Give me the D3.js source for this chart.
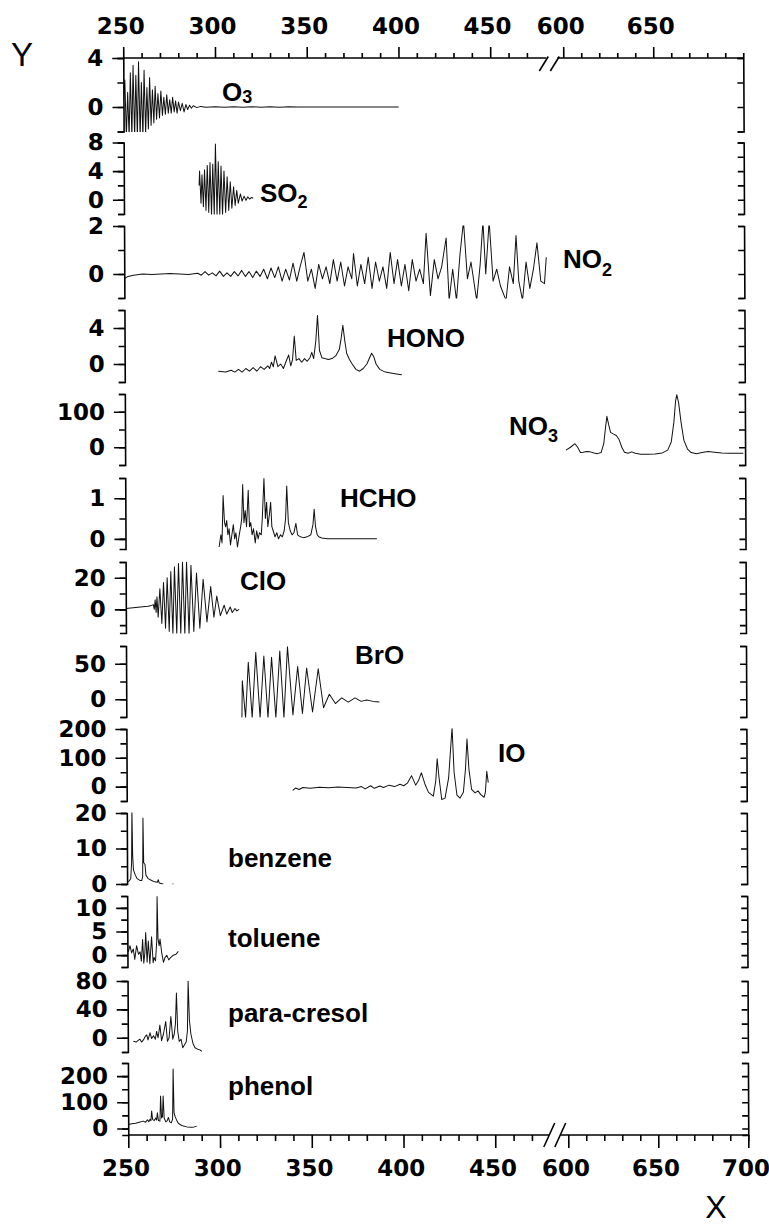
<!DOCTYPE html>
<html><head><meta charset="utf-8">
<script src="https://cdn.jsdelivr.net/npm/d3@7"></script>
<style>body{margin:0;background:#fff}svg{display:block}</style>
</head><body><svg id="c" width="769" height="1225"></svg>
<script>
// ---------------- DATA (wavelength nm, value) ----------------
const o3 = [[250,0.5],[250.8,2.2],[251.5,-2.5],[252.3,1.2],[253,-2.5],[253.8,2.8],[254.5,-2.5],[255.3,3.4],[256,-2.5],[256.8,2.6],[257.5,-2.5],[258.3,3.7],[259,-2.5],[259.8,2.0],[260.5,-2.5],[261.3,3.0],[262,-2.2],[262.8,1.6],[263.5,-1.8],[264.3,2.4],[265,-1.5],[265.8,1.4],[266.5,-1.3],[267.3,1.7],[268,-1.0],[268.8,1.1],[269.6,-0.9],[270.4,1.3],[271.2,-0.7],[272,0.8],[272.8,-0.6],[273.6,1.0],[274.4,-0.5],[275.2,0.6],[276,-0.5],[276.8,0.8],[277.6,-0.4],[278.4,0.5],[279.2,-0.5],[280,0.4],[281,-0.3],[282,0.3],[283,-0.4],[284,0.2],[285,-0.2],[286,0.15],[287,-0.1],[288,0.1],[290,-0.05],[292,0.05],[295,-0.03],[300,0.02],[305,-0.02],[310,0.03],[315,-0.02],[320,0.03],[325,-0.02],[330,0.02],[335,-0.02],[340,0.02],[345,0],[360,0],[380,0],[400,0]];
const so2 = [[291,2.0],[291.3,4.0],[292,-0.5],[292.6,3.5],[293.3,-1.0],[294,4.2],[294.7,-1.5],[295.5,4.8],[296.2,-1.8],[297,5.2],[297.7,-2.2],[298.5,5.0],[299.2,-2.2],[300,7.8],[300.7,-2.2],[301.5,5.3],[302.2,-2.2],[303,4.7],[303.7,-2.2],[304.6,4.0],[305.4,-1.8],[306.3,3.2],[307.1,-1.5],[308,2.5],[308.8,-1.2],[309.8,1.8],[310.6,-0.8],[311.5,1.3],[312.3,-0.5],[313.5,0.8],[314.4,-0.2],[315.5,0.5],[316.5,-0.1],[317.5,0.4],[318.5,0.1],[319.5,0.3],[320.5,0.2]];
const no2 = [[250,-0.2],[252,-0.1],[255,-0.05],[260,0],[265,-0.02],[270,0],[275,0.02],[280,0],[285,-0.02],[290,0.03],[292,-0.05],[294,0.1],[296,-0.05],[298,0.05],[300,-0.08],[302,0.12],[304,-0.1],[306,0.05],[308,-0.1],[310,0.1],[312,-0.08],[314,0.15],[316,-0.1],[318,0.1],[320,-0.15],[322,0.12],[324,-0.1],[326,0.2],[328,-0.2],[330,0.25],[332,-0.15],[334,0.3],[336,-0.3],[338,0.2],[340,-0.25],[342,0.45],[344,-0.3],[346,0.35],[348,0.9],[350,-0.3],[352,0.2],[354,-0.6],[356,0.4],[358,-0.2],[360,0.3],[362,-0.4],[364,0.6],[366,-0.3],[368,0.5],[370,-0.5],[372,0.3],[374,-0.2],[375,0.85],[377,-0.5],[379,0.4],[381,-0.4],[383,0.7],[385,-0.6],[387,0.5],[389,-0.3],[391,0.3],[393,-0.6],[395,0.9],[397,-0.4],[399,0.6],[401,-0.5],[403,0.4],[405,-0.7],[407,0.6],[409,-0.3],[411,0.2],[413,-0.4],[414.6,1.7],[416.8,-0.9],[419,0.6],[421,-0.2],[423,0.3],[425.5,1.5],[427,-1.1],[429,0.2],[431,-1.1],[433,0.8],[435,2.2],[437,-0.2],[439,0.5],[442,-1.1],[444,0.4],[445.6,2.2],[447,0],[449,2.2],[451,-0.3],[453,0.2],[455,-0.5],[458,-1.1],[460,0.3],[462,-0.4],[463.6,1.6],[465,-0.3],[467,-1.1],[469,0.5],[471,-0.6],[473,0.2],[475,1.3],[477,-0.3],[479,-0.4],[480.5,0.7]];
const hono = [[301,-0.8],[305,-0.9],[308,-0.7],[310,-0.9],[312,-0.6],[314,-0.9],[316,-0.5],[318,-0.8],[320,-0.4],[322,-0.8],[324,-0.3],[326,-0.6],[328,-0.2],[329,-0.5],[330,0.2],[331,-0.3],[332,0.9],[333.5,-0.3],[335,0],[336.5,-0.5],[338,0.3],[339.4,1.0],[340.5,-0.2],[341.5,0.5],[342.5,3.1],[343.5,0.4],[345,0.6],[346.5,0.2],[348,0.6],[349.5,0.3],[351,0.7],[352,1.3],[353,0.6],[354.2,2.5],[355.2,5.4],[356.2,1.5],[357.5,0.7],[359,0.6],[361,0.5],[363,0.6],[365,0.9],[367,1.6],[368,2.8],[369,4.3],[370,2.6],[371,1.2],[372.5,0.5],[374,0],[376,-0.6],[378,-0.8],[380,-0.5],[382,0],[383.5,0.7],[384.6,1.2],[385.8,0.8],[387,0],[389,-0.6],[392,-0.9],[395,-1.0],[398,-1.1],[401,-1.2]];
const no3 = [[600.5,-8],[603,0],[605.5,10],[607,0],[608.5,-15],[610,-14],[612,-12],[614,-13],[616,-16],[618,-18],[620,-15],[621.5,10],[622.5,55],[623.3,87],[624.2,65],[625.3,42],[627,37],[628.5,33],[630,22],[631.5,0],[633,-14],[635,-17],[637,-13],[639,-17],[642,-20],[646,-20],[650,-19],[654,-16],[657,-8],[659,15],[660.5,70],[661.5,130],[662.2,148],[663.2,125],[664.5,70],[666,20],[668,-5],[670,-15],[673,-18],[676,-15],[679.5,-12],[683,-14],[687,-16],[691,-17],[695,-17],[699,-17]];
const hcho = [[301,-0.2],[302,0.1],[302.6,-0.1],[303.3,1.07],[304,0.4],[304.6,0.3],[305.2,0.45],[305.8,0.1],[306.5,0.25],[307.2,-0.15],[308,0.1],[308.8,0.35],[309.5,0.0],[310.2,0.15],[311,-0.2],[312,0.1],[312.8,0.3],[313.4,0.5],[314,1.34],[314.6,0.4],[315.3,0.7],[316,0.3],[317,1.2],[317.6,0.3],[318.3,0.4],[319,0.1],[319.8,0.25],[320.7,-0.1],[321.5,0.2],[322.3,0.0],[323,0.15],[324,0.1],[324.6,0.5],[325.6,1.49],[326.3,0.5],[327,0.9],[327.6,0.3],[328.5,0.6],[329.2,0.9],[329.8,0.3],[330.5,0.2],[331.5,0.05],[332.5,0.15],[333.4,0.0],[334.5,0.1],[335.5,0.05],[336.5,0.2],[337.3,0.5],[338,1.3],[338.8,0.4],[339.8,0.2],[340.8,0.1],[341.8,0.15],[342.9,0.38],[343.8,0.1],[345.3,0.05],[347,0.03],[349,0.05],[351,0.1],[352.2,0.35],[352.9,0.73],[353.6,0.3],[354.5,0.1],[355.3,0.05],[357,0.02],[360,0],[365,0],[370,0],[375,0],[380,0],[387,0]];
const clo = [[250,0.5],[254,1],[258,1.5],[262,2],[264,2.5],[265,3],[265.5,0],[266,6],[266.5,-2],[267,8],[267.6,-5],[268.6,13],[269.6,-9],[270.6,17],[271.6,-12],[272.6,20],[273.6,-14],[274.6,24],[275.6,-16],[276.6,27],[277.7,-16],[278.8,29],[279.9,-16],[281,30],[282.1,-16],[283.2,30],[284.4,-16],[285.6,28],[287,-14],[288.6,23],[290.3,-12],[292.2,19],[294.2,-8],[296.3,14.4],[298,-5],[299.6,8.4],[301.5,-4],[303.6,2.6],[305,-3],[306.9,1.5],[308,-2],[309.5,0.5],[310.5,-1],[311.7,0]];
const bro = [[313,-26],[313.3,26],[315,-26],[316.6,52],[318.6,-26],[320.7,66],[322.9,-26],[325.1,61],[327.2,-26],[329.3,59],[331.5,-26],[333.8,68],[335.9,-26],[338,74],[340.8,-22],[343.5,46],[346,-20],[348.4,44],[351.5,-18],[354.7,43],[357.5,-12],[360.7,7],[364,-6],[367.4,2],[371,-4],[374.7,2],[378,-3],[381,-1],[384.5,-3],[388,-4]];
const io = [[340.5,-13],[342,-5],[344,-10],[346,-3],[350,-6],[355,-2],[360,-4],[365,-1],[370,-3],[375,-5],[378,0],[380,-8],[383,3],[385,-6],[388,2],[390,-3],[393,5],[396,0],[399,8],[401,3],[403,12],[405.3,38],[407.5,5],[409,20],[410.7,48],[412.5,10],[414.5,-20],[417.1,-33],[418.5,20],[419.3,97],[420.3,30],[421.7,-45],[423.5,-40],[425.5,30],[427.5,205],[428.5,50],[430,-30],[431.7,-40],[433.5,-20],[434.7,60],[435.6,165],[436.6,60],[438,-10],[439.9,-22],[441.5,-15],[443,-28],[444.8,-37],[445.5,-20],[446.3,53],[447.1,14]];
const benzene = [[250,0.5],[251,0.8],[252,1.5],[252.5,6],[252.8,21],[253.1,8],[253.5,4],[254.5,2.5],[255.5,1.5],[257,1],[258,1],[258.5,2],[258.8,18.6],[259.1,6],[259.8,5.5],[260.3,2.5],[261.5,1.5],[263.4,1],[265,0.6],[266.5,0.5],[267,1.2],[267.5,0.3],[269,0.1],[269.7,0],[272,null],[274.7,0],[275.3,0]];
const toluene = [[250.5,0.7],[251.4,2],[252.3,0.5],[253.2,1.3],[254,-0.9],[255,2],[256,0.2],[256.9,0.7],[257.6,-1.3],[258.3,3.3],[258.9,-1.7],[259.5,0.5],[260,4.8],[260.7,-1.5],[261.4,3],[262.2,-1.8],[263.2,3.9],[264,-1.6],[264.5,-0.5],[265.3,-1.2],[266,3],[266.3,12.4],[266.7,3.5],[267.3,2],[267.8,3.4],[268.7,0.5],[269.6,-1.5],[270.5,-0.5],[271.4,0],[272.5,-1],[273.5,-0.5],[275,0],[276.5,0.2],[277.7,0.8]];
const paraCresol = [[253,-5],[254.5,-6],[256,-3],[256.6,-2],[257.5,-6],[258.5,-3],[259.5,2],[260.3,4],[261,-3],[262.1,7],[263,-1],[264,3],[265,-2],[265.7,9],[266.5,0],[267.5,18],[268.4,-4],[269.4,5],[270.7,23],[271.6,-5],[272.5,0],[273.5,30],[274.5,-2],[275.3,5],[276,20],[276.6,63],[277.2,10],[278,-5],[279,-2],[279.9,-14],[280.8,-10],[281.8,-6],[282.5,10],[283,80],[283.6,25],[284.4,5],[285.5,-8],[286.6,-14],[288,-16],[289.3,-17],[290.3,-19]];
const phenol = [[250,15],[252,18],[254,20],[256,24],[258.2,28],[259.5,24],[260.5,33],[261.2,26],[261.9,35],[262.4,30],[262.8,67],[263.3,35],[264.2,30],[265,40],[265.5,32],[265.9,60],[266.5,30],[267.3,28],[267.7,124],[268.2,40],[268.7,45],[269.1,124],[269.6,40],[270.5,25],[271.3,30],[271.9,42],[272.6,25],[273.5,22],[274.2,35],[274.6,227],[275,60],[275.6,45],[276.5,30],[277.3,20],[278.5,14],[280,9],[282,6],[284.6,5],[286,6],[287.3,8]];

const seriesList = [o3, so2, no2, hono, no3, hcho, clo, bro, io, benzene, toluene, paraCresol, phenol];
const speciesNames = [["O","3"],["SO","2"],["NO","2"],["HONO",""],["NO","3"],["HCHO",""],["ClO",""],["BrO",""],["IO",""],["benzene",""],["toluene",""],["para-cresol",""],["phenol",""]];
const yDomains = [[-2,4],[-2,8],[-1,2],[-2,6],[-50,150],[-0.25,1.5],[-15,30],[-25,75],[-50,200],[0,20],[-2.5,12.5],[-20,80],[-25,250]];
const yTicks = [[-2,0,2,4],[-2,0,2,4,6,8],[-1,0,1,2],[-2,0,2,4,6],[-50,0,50,100,150],[0,0.5,1,1.5],[-10,0,10,20,30],[-25,0,25,50,75],[-50,0,50,100,150,200],[0,5,10,15,20],[-2.5,0,2.5,5,7.5,10,12.5],[-20,0,20,40,60,80],[0,50,100,150,200,250]];
const yLabelTicks = [[0,4],[0,4,8],[0,2],[0,4],[0,100],[0,1],[0,20],[0,50],[0,100,200],[0,10,20],[0,5,10],[0,40,80],[0,100,200]];
const xMajorTop = [250,300,350,400,450,600,650];
const xMajorBottom = [250,300,350,400,450,600,650,700];
const xMinor = [260,270,280,290,310,320,330,340,360,370,380,390,410,420,430,440,460,470,610,620,630,640,660,670,680,690,700];

// ---------------- LAYOUT ----------------
const panelTop =    [58,142.5,226,310,394,478,562,646,729,813,896,981,1063];
const panelBottom = [131.5,214,298,382,465,549,633,717,801,884,967,1052,1135];
const labelPos = [[222,101,2],[260,202,6],[563,268,8],[387,347,0],[509,435,7],[340,507,0],[240,590,0],[355,664,0],[498,762,0],[228,867,0],[228,947,0],[228,1022,0],[228,1095,0]];
const left = 123, right = 743;
const skewDeg = 0.266;
const tickFont = "bold 23px 'DejaVu Sans', sans-serif";

const svg = d3.select("#c");
const g = svg.append("g").attr("transform", `skewX(${skewDeg})`);
const defs = g.append("defs");

const x = d3.scaleLinear().domain([250, 480, 600, 700]).range([left, 545, 563, right]);

seriesList.forEach((data, i) => {
  const y = d3.scaleLinear().domain(yDomains[i]).range([panelBottom[i], panelTop[i]]);
  const cid = "clip" + i;
  defs.append("clipPath").attr("id", cid).append("rect")
    .attr("x", left).attr("y", panelTop[i] - 0.5)
    .attr("width", right - left).attr("height", panelBottom[i] - panelTop[i] + 1);

  const line = d3.line().defined(d => d[1] !== null).x(d => x(d[0])).y(d => y(d[1]));
  g.append("path").datum(data).attr("d", line)
    .attr("clip-path", `url(#${cid})`)
    .attr("fill", "none").attr("stroke", "#111").attr("stroke-width", 1)
    .attr("stroke-linejoin", "round");

  const la = g.append("g").attr("transform", `translate(${left},0)`)
    .call(d3.axisLeft(y).tickValues(yTicks[i]).tickSize(6).tickSizeOuter(6).tickFormat(""));
  la.selectAll("path,line").attr("stroke", "#000").attr("stroke-width", 1.6);
  const ll = g.append("g").attr("transform", `translate(${left},0)`)
    .call(d3.axisLeft(y).tickValues(yLabelTicks[i]).tickSize(11).tickPadding(9).tickFormat(d3.format("d")));
  ll.select(".domain").remove();
  ll.selectAll("line").attr("stroke", "#000").attr("stroke-width", 1.6);
  ll.selectAll("text").style("font", tickFont).attr("fill", "#000");

  const ra = g.append("g").attr("transform", `translate(${right},0)`)
    .call(d3.axisRight(y).tickValues(yTicks[i]).tickSize(-6).tickSizeOuter(-6).tickFormat(""));
  ra.selectAll("path,line").attr("stroke", "#000").attr("stroke-width", 1.6);
});

function xAxis(yPos, majors, dir) {
  const ax = g.append("g").attr("transform", `translate(0,${yPos})`);
  const mk = dir < 0 ? d3.axisTop : d3.axisBottom;
  const mn = ax.append("g").call(mk(x).tickValues(xMinor).tickSize(dir < 0 ? 5 : 6).tickFormat(""));
  mn.select(".domain").remove();
  const mj = ax.append("g").call(mk(x).tickValues(majors).tickSize(dir < 0 ? 11 : 13).tickPadding(dir < 0 ? 13 : 12).tickFormat(d3.format("d")));
  mj.select(".domain").remove();
  ax.selectAll("line").attr("stroke", "#000").attr("stroke-width", 1.6);
  mj.selectAll("text").style("font", tickFont).attr("fill", "#000").attr("dx", -3);
  return ax;
}
xAxis(panelTop[0], xMajorTop, -1);
xAxis(panelBottom[12], xMajorBottom, 1);

const seg = (x1, x2, yy) => g.append("line").attr("x1", x1).attr("x2", x2).attr("y1", yy).attr("y2", yy)
  .attr("stroke", "#000").attr("stroke-width", 1.6);
seg(left, 546, panelTop[0]); seg(557, right, panelTop[0]);
seg(left, 544, panelBottom[12]); seg(555, right, panelBottom[12]);
[544, 555].forEach(cx => {
  g.append("line").attr("x1", cx - 5).attr("y1", 71).attr("x2", cx + 4).attr("y2", 56.5)
    .attr("stroke", "#000").attr("stroke-width", 1.6);
  g.append("line").attr("x1", cx - 5.5).attr("y1", 1147).attr("x2", cx + 5.5).attr("y2", 1123)
    .attr("stroke", "#000").attr("stroke-width", 1.6);
});

speciesNames.forEach((nm, i) => {
  const [lx, ly, sdy] = labelPos[i];
  const t = svg.append("text").attr("x", lx).attr("y", ly)
    .style("font", "bold 26px 'Liberation Sans', Arial, sans-serif").attr("fill", "#000");
  t.append("tspan").text(nm[0]);
  if (nm[1]) t.append("tspan").attr("dy", sdy).style("font-size", "18px").text(nm[1]);
});

svg.append("text").attr("x", 22).attr("y", 66).attr("text-anchor", "middle")
  .style("font", "33px 'Liberation Sans', Arial, sans-serif").text("Y");
svg.append("text").attr("x", 716).attr("y", 1218).attr("text-anchor", "middle")
  .style("font", "32px 'Liberation Sans', Arial, sans-serif").text("X");
</script>
</body></html>
